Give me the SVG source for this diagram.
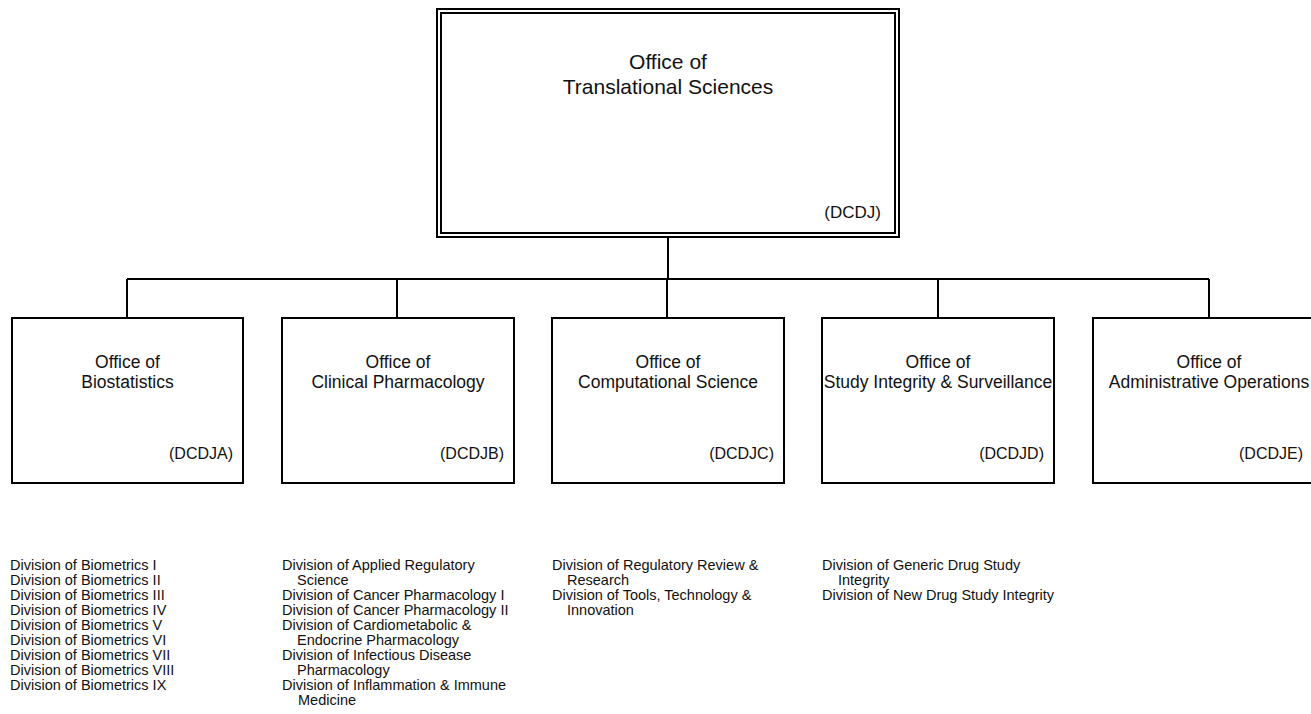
<svg xmlns="http://www.w3.org/2000/svg" width="1311" height="714" viewBox="0 0 1311 714">
<style>
.box{fill:#fff;stroke:#000;stroke-width:2}
.conn{fill:none;stroke:#000;stroke-width:2}
.t{font-family:"Liberation Sans",Arial,sans-serif;fill:#111}
.top{font-size:21px;text-anchor:middle}
.topc{font-size:17px;text-anchor:end}
.ch{font-size:17.5px;text-anchor:middle}
.code{font-size:16px;text-anchor:end}
.li{font-size:14.5px}
</style>
<rect width="1311" height="714" fill="#fff"/>
<g id="connectors">
<path class="conn" d="M668,237V279M127,279H1209M127,279V318M397,279V318M667,279V318M938,279V318M1209,279V318"/>
</g>
<g id="n-ots">
<rect class="box" x="437" y="9" width="462" height="228"/>
<rect class="box" x="441" y="13" width="454" height="220"/>
<text class="t top" x="668" y="69">Office of</text>
<text class="t top" x="668" y="94">Translational Sciences</text>
<text class="t topc" x="881" y="218">(DCDJ)</text>
</g>
<g id="n-dcdja">
<rect class="box" x="12" y="318" width="231" height="165"/>
<text class="t ch" x="127.5" y="368">Office of</text>
<text class="t ch" x="127.5" y="388">Biostatistics</text>
<text class="t code" x="233" y="459">(DCDJA)</text>
<text class="t li" x="10"><tspan x="10" y="570">Division of Biometrics I</tspan><tspan x="10" y="585">Division of Biometrics II</tspan><tspan x="10" y="600">Division of Biometrics III</tspan><tspan x="10" y="615">Division of Biometrics IV</tspan><tspan x="10" y="630">Division of Biometrics V</tspan><tspan x="10" y="645">Division of Biometrics VI</tspan><tspan x="10" y="660">Division of Biometrics VII</tspan><tspan x="10" y="675">Division of Biometrics VIII</tspan><tspan x="10" y="690">Division of Biometrics IX</tspan></text>
</g>
<g id="n-dcdjb">
<rect class="box" x="282" y="318" width="232" height="165"/>
<text class="t ch" x="398" y="368">Office of</text>
<text class="t ch" x="398" y="388">Clinical Pharmacology</text>
<text class="t code" x="504" y="459">(DCDJB)</text>
<text class="t li"><tspan x="282" y="570">Division of Applied Regulatory</tspan><tspan x="297" y="585">Science</tspan><tspan x="282" y="600">Division of Cancer Pharmacology I</tspan><tspan x="282" y="615">Division of Cancer Pharmacology II</tspan><tspan x="282" y="630">Division of Cardiometabolic &amp;</tspan><tspan x="297" y="645">Endocrine Pharmacology</tspan><tspan x="282" y="660">Division of Infectious Disease</tspan><tspan x="297" y="675">Pharmacology</tspan><tspan x="282" y="690">Division of Inflammation &amp; Immune</tspan><tspan x="298" y="705">Medicine</tspan></text>
</g>
<g id="n-dcdjc">
<rect class="box" x="552" y="318" width="232" height="165"/>
<text class="t ch" x="668" y="368">Office of</text>
<text class="t ch" x="668" y="388">Computational Science</text>
<text class="t code" x="774" y="459">(DCDJC)</text>
<text class="t li"><tspan x="552" y="570">Division of Regulatory Review &amp;</tspan><tspan x="567" y="585">Research</tspan><tspan x="552" y="600">Division of Tools, Technology &amp;</tspan><tspan x="567" y="615">Innovation</tspan></text>
</g>
<g id="n-dcdjd">
<rect class="box" x="822" y="318" width="232" height="165"/>
<text class="t ch" x="938" y="368">Office of</text>
<text class="t ch" x="938" y="388">Study Integrity &amp; Surveillance</text>
<text class="t code" x="1044" y="459">(DCDJD)</text>
<text class="t li"><tspan x="822" y="570">Division of Generic Drug Study</tspan><tspan x="838" y="585">Integrity</tspan><tspan x="822" y="600">Division of New Drug Study Integrity</tspan></text>
</g>
<g id="n-dcdje">
<rect class="box" x="1093" y="318" width="232" height="165"/>
<text class="t ch" x="1209" y="368">Office of</text>
<text class="t ch" x="1209" y="388">Administrative Operations</text>
<text class="t code" x="1303" y="459">(DCDJE)</text>
</g>
</svg>
